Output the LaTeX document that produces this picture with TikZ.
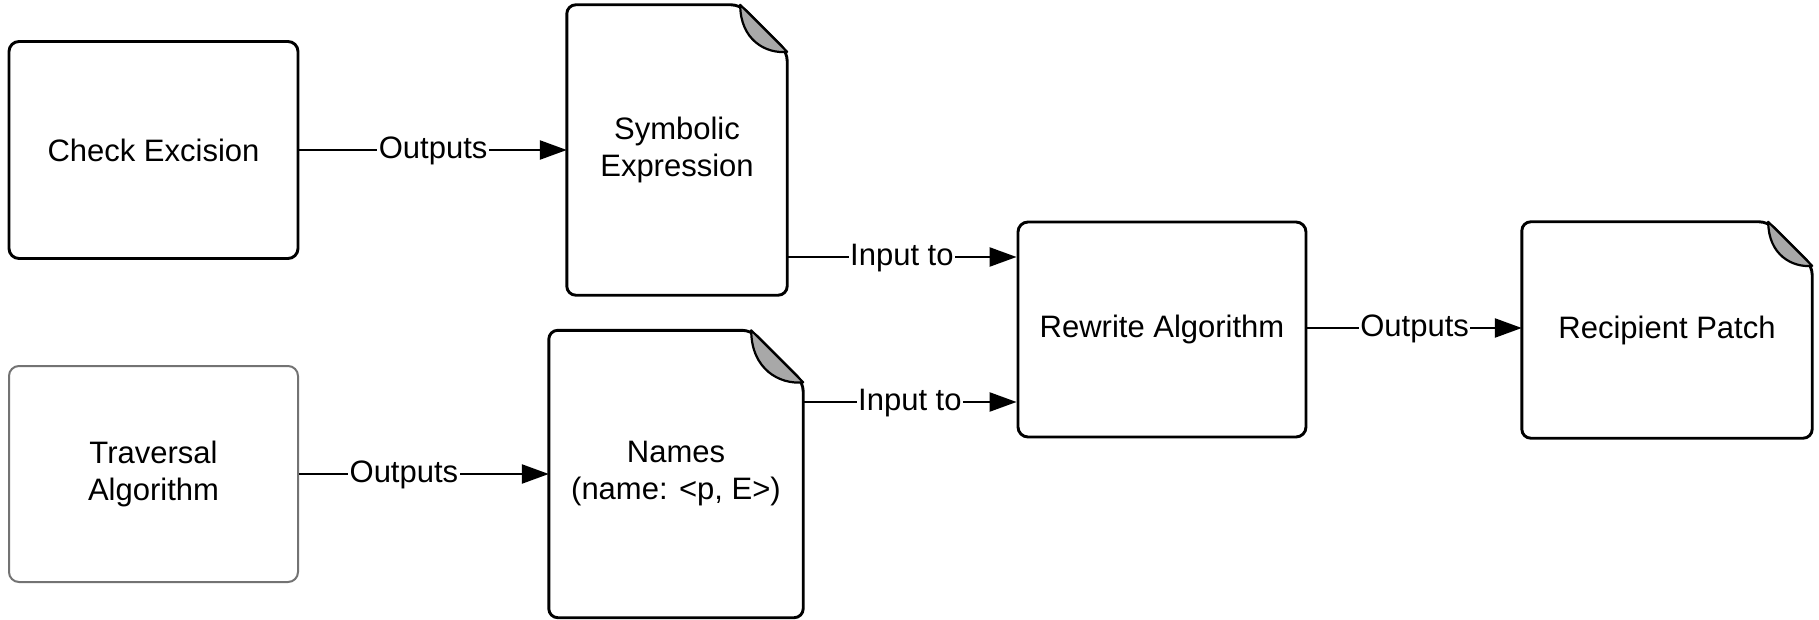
\documentclass[tikz,border=0pt]{standalone}
\usepackage{fontspec}
\setmainfont{Liberation Sans}
\usetikzlibrary{arrows.meta,calc}
\definecolor{foldgray}{HTML}{A8A8A8}
\tikzset{
  x=1pt, y=-1pt,
  txt/.style={font=\fontsize{31}{37}\selectfont, align=center, inner sep=0pt},
  procbox/.style={txt, draw, line width=2.9pt, rounded corners=10pt},
  lightbox/.style={txt, draw=black!55, line width=2pt, rounded corners=10pt},
  docnode/.style={txt},
  docline/.style={draw, line width=2.9pt, rounded corners=9pt},
  conn/.style={line width=2.4pt, -{Triangle[length=27pt,width=19pt]}},
  lbl/.style={font=\fontsize{31}{37}\selectfont, fill=white, inner sep=1.5pt, text height=17pt, text depth=0pt}
}
\newcommand\docoutline[2]{%
  \path[docline, fill=white] (#1.north west) -- ($(#1.north east)+(-#2,0)$) -- ($(#1.north east)+(0,#2)$) -- (#1.south east) -- (#1.south west) -- cycle;
  \fill[foldgray, draw=black, line width=2.2pt, line join=round] ($(#1.north east)+(-#2,0)$) -- ($(#1.north east)+(0,#2)$)
     .. controls ($(#1.north east)+(-0.45*#2,1.05*#2)$) and ($(#1.north east)+(-1.0*#2,0.75*#2)$) .. cycle;
}
\begin{document}
\begin{tikzpicture}
\useasboundingbox (0,0) rectangle (1819,620);
% process boxes
\node[procbox, minimum width=289pt, minimum height=217pt] (check) at (153.5,150) {Check Excision};
\node[lightbox, minimum width=289pt, minimum height=216pt] (trav) at (153.5,474) {Traversal\\Algorithm};
\node[procbox, minimum width=288pt, minimum height=215pt] (rew) at (1162,329.5) {Rewrite Algorithm};
% documents
\node[docnode, minimum width=220pt, minimum height=290pt] (sym) at (677,150) {};
\docoutline{sym}{47}
\node[txt] at (sym.center) {Symbolic\\Expression};
\node[docnode, minimum width=254pt, minimum height=287pt] (names) at (676,474) {};
\docoutline{names}{52}
\node[txt] at (names.center) {Names\\(name: <p, E>)};
\node[docnode, minimum width=290pt, minimum height=216pt] (rec) at (1667,330) {};
\docoutline{rec}{44}
\node[txt] at (rec.center) {Recipient Patch};
% connector levels
\coordinate (ya) at (0,257);
\coordinate (yb) at (0,402);
\coordinate (yc) at (0,328);
% connectors
\draw[conn] (check.east) -- node[lbl] {Outputs} (sym.west);
\draw[conn] (trav.east) -- node[lbl, pos=0.42] {Outputs} (names.west);
\draw[conn] (sym.east |- ya) -- node[lbl] {Input to} (rew.west |- ya);
\draw[conn] (names.east |- yb) -- node[lbl] {Input to} (rew.west |- yb);
\draw[conn] (rew.east |- yc) -- node[lbl] {Outputs} (rec.west |- yc);
\end{tikzpicture}
\end{document}
